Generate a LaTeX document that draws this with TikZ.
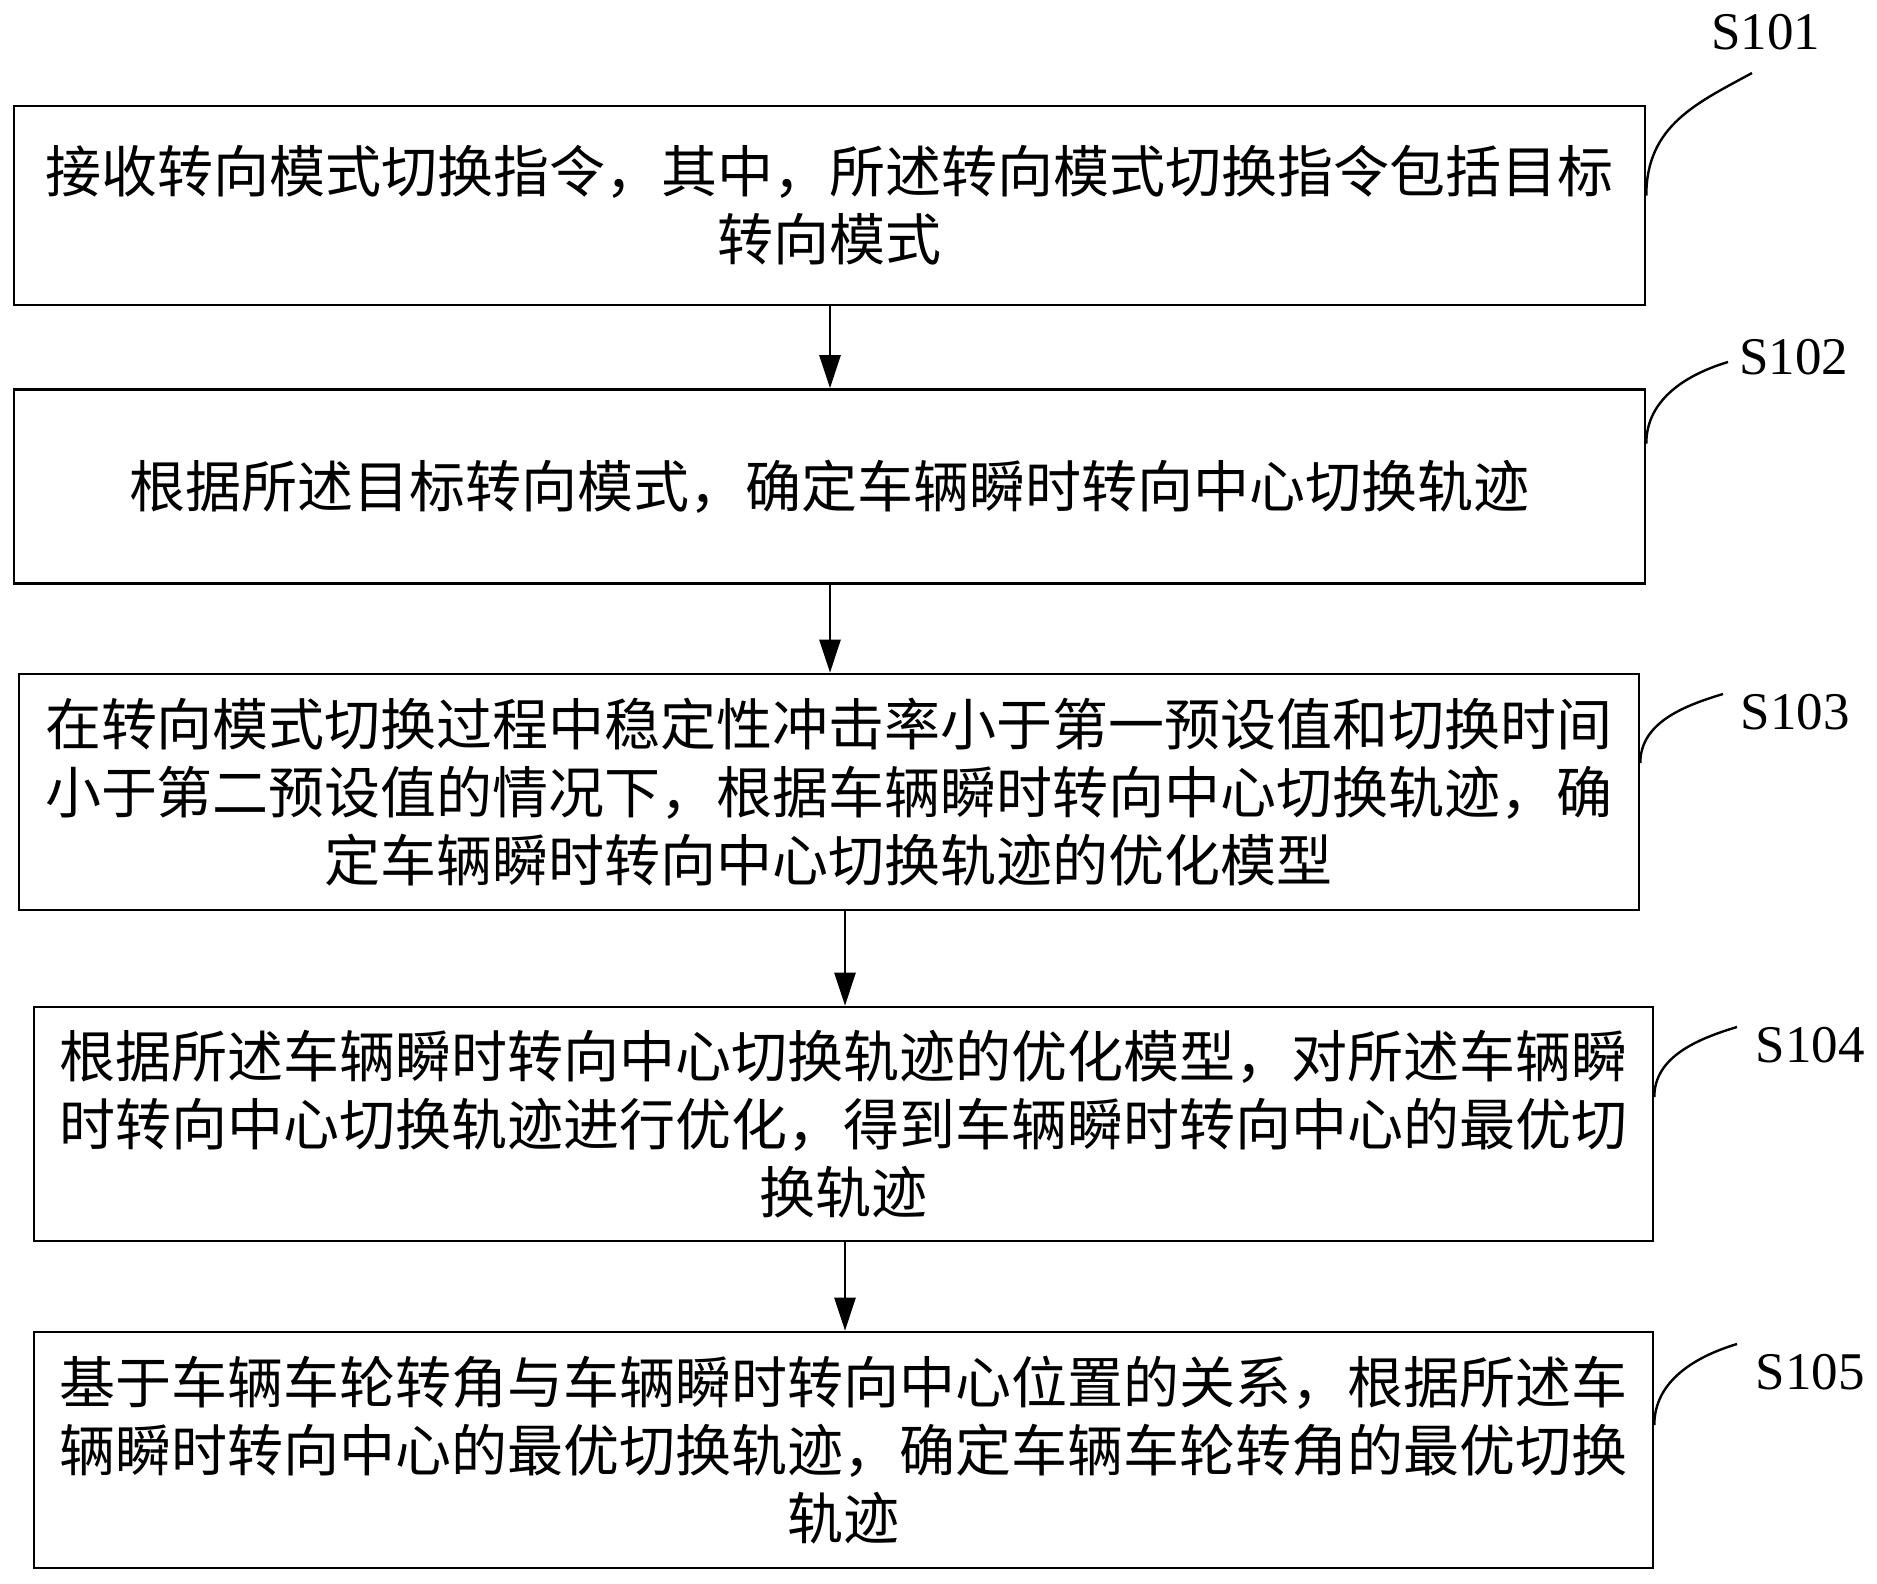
\documentclass[tikz,border=0pt]{standalone}
\usepackage{fontspec}
\setmainfont{Liberation Serif}
\newfontfamily\cjk{Noto Sans CJK SC}
\usetikzlibrary{arrows.meta}
\tikzset{
  stepbox/.style={draw, line width=2.6pt, rectangle, inner sep=0pt, align=center,
    font=\cjk\fontsize{56}{68}\selectfont},
  arr/.style={line width=2.8pt, -{Triangle[length=33pt,width=21pt]}},
  leader/.style={line width=2.4pt},
  lbl/.style={font=\fontsize{53}{60}\selectfont, inner sep=0pt}
}
\begin{document}
\begin{tikzpicture}[x=1pt,y=-1pt]
\useasboundingbox (0,0) rectangle (1877,1584);
\node[stepbox, minimum width=1631pt, minimum height=199pt] (b1) at (829.5,205.5)
  {接收转向模式切换指令，其中，所述转向模式切换指令包括目标\\转向模式};
\node[stepbox, minimum width=1631pt, minimum height=194pt] (b2) at (829.5,486.5)
  {根据所述目标转向模式，确定车辆瞬时转向中心切换轨迹};
\node[stepbox, minimum width=1620pt, minimum height=236pt] (b3) at (829,792)
  {在转向模式切换过程中稳定性冲击率小于第一预设值和切换时间\\小于第二预设值的情况下，根据车辆瞬时转向中心切换轨迹，确\\定车辆瞬时转向中心切换轨迹的优化模型};
\node[stepbox, minimum width=1619pt, minimum height=234pt] (b4) at (843.5,1124)
  {根据所述车辆瞬时转向中心切换轨迹的优化模型，对所述车辆瞬\\时转向中心切换轨迹进行优化，得到车辆瞬时转向中心的最优切\\换轨迹};
\node[stepbox, minimum width=1619pt, minimum height=236pt] (b5) at (843.5,1450)
  {基于车辆车轮转角与车辆瞬时转向中心位置的关系，根据所述车\\辆瞬时转向中心的最优切换轨迹，确定车辆车轮转角的最优切换\\轨迹};

\draw[arr] ([xshift=0.5pt]b1.south) -- ([xshift=0.5pt]b2.north);
\draw[arr] ([xshift=0.5pt]b2.south) -- ([xshift=1pt]b3.north);
\draw[arr] ([xshift=16pt]b3.south) -- ([xshift=1.5pt]b4.north);
\draw[arr] ([xshift=1.5pt]b4.south) -- ([xshift=1.5pt]b5.north);

\node[lbl] (l1) at (1766,32) {S101};
\node[lbl] (l2) at (1794,357) {S102};
\node[lbl] (l3) at (1795,712) {S103};
\node[lbl] (l4) at (1810,1045) {S104};
\node[lbl] (l5) at (1810,1372) {S105};

\coordinate (e1) at (1752,73);
\coordinate (e2) at (1728,362);
\coordinate (e3) at (1723,694);
\coordinate (e4) at (1737,1027);
\coordinate (e5) at (1737,1344);

\draw[leader] ([yshift=10pt]b1.east) .. controls +(0,-70) and +(-55,30) .. (e1);
\draw[leader] ([yshift=43pt]b2.east) .. controls +(0,-45) and +(-40,12) .. (e2);
\draw[leader] ([yshift=29pt]b3.east) .. controls +(0,-40) and +(-40,12) .. (e3);
\draw[leader] ([yshift=27pt]b4.east) .. controls +(0,-40) and +(-40,12) .. (e4);
\draw[leader] ([yshift=25pt]b5.east) .. controls +(0,-45) and +(-40,12) .. (e5);
\end{tikzpicture}
\end{document}
